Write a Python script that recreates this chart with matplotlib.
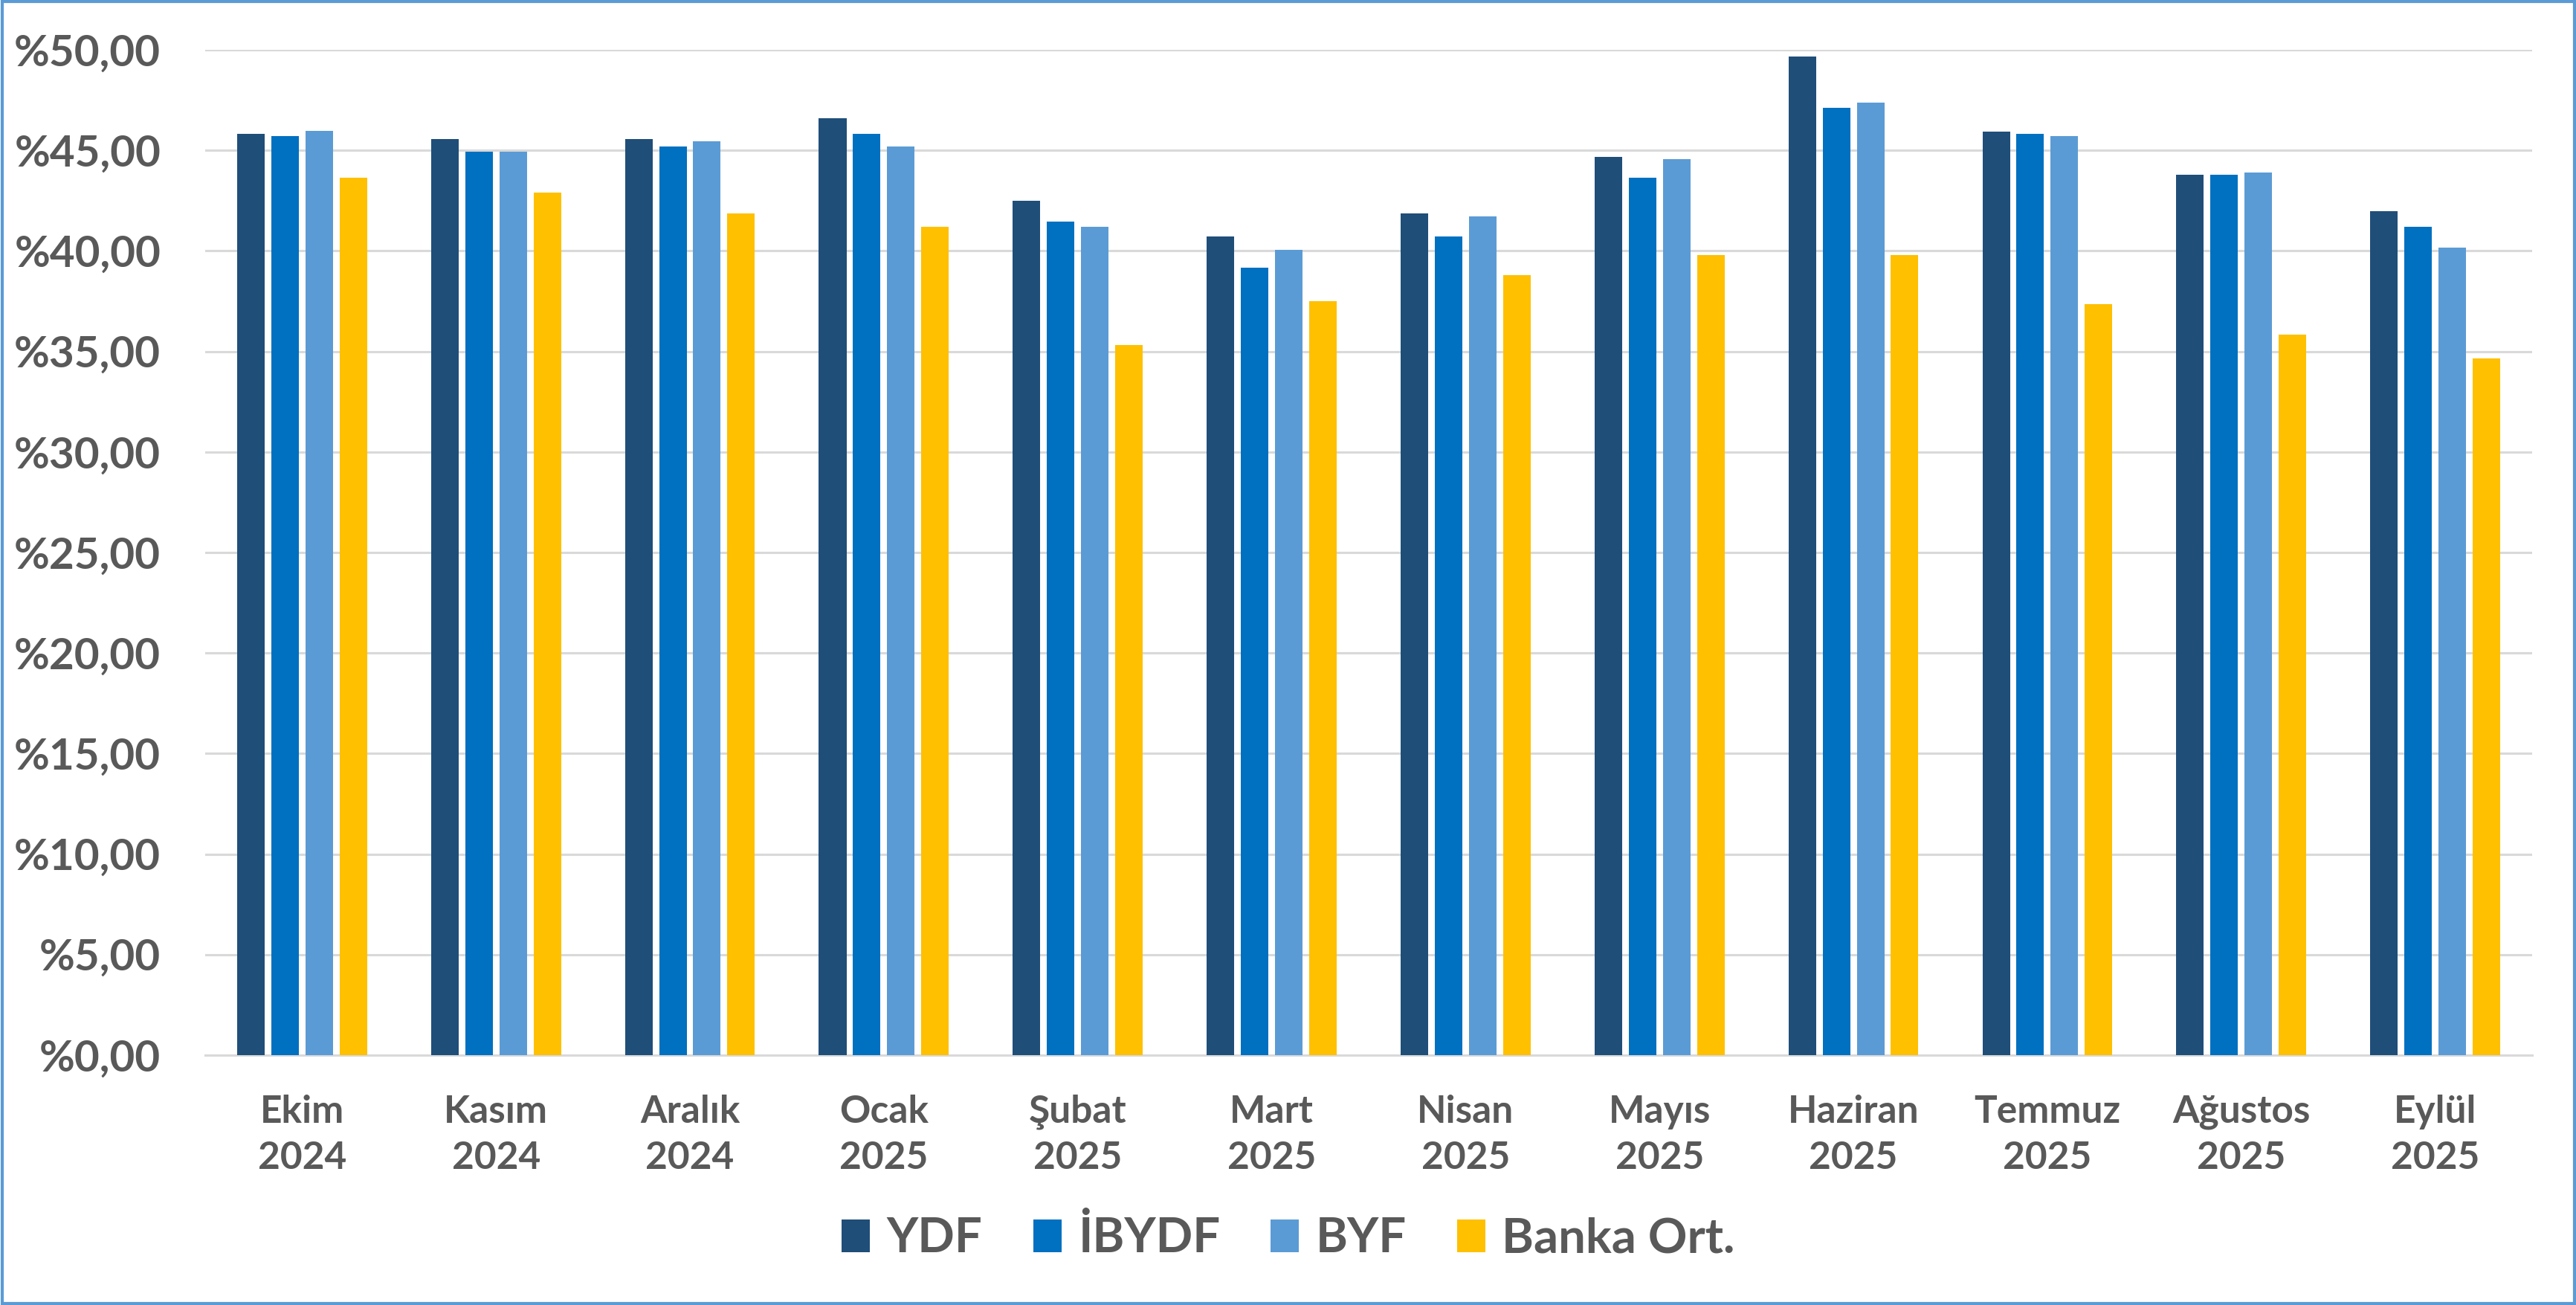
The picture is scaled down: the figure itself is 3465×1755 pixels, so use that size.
import matplotlib
matplotlib.use("Agg")
import matplotlib.pyplot as plt
import numpy as np
from matplotlib.patches import Rectangle

months = ["Ekim\n2024", "Kasım\n2024", "Aralık\n2024", "Ocak\n2025", "Şubat\n2025", "Mart\n2025",
          "Nisan\n2025", "Mayıs\n2025", "Haziran\n2025", "Temmuz\n2025", "Ağustos\n2025", "Eylül\n2025"]
ydf   = [45.83, 45.57, 45.57, 46.60, 42.49, 40.72, 41.86, 44.67, 49.68, 45.95, 43.79, 41.97]
ibydf = [45.71, 44.94, 45.19, 45.83, 41.47, 39.16, 40.72, 43.65, 47.11, 45.83, 43.79, 41.21]
byf   = [45.97, 44.94, 45.45, 45.19, 41.21, 40.05, 41.73, 44.55, 47.37, 45.71, 43.91, 40.18]
banka = [43.65, 42.90, 41.86, 41.21, 35.33, 37.50, 38.78, 39.80, 39.80, 37.36, 35.84, 34.66]
series_names = ["YDF", "İBYDF", "BYF", "Banka Ort."]
yticks = [0, 5, 10, 15, 20, 25, 30, 35, 40, 45, 50]

colors = ["#1F4E79", "#0070C0", "#5B9BD5", "#FFC000"]
txt = "#595959"
fam = ["Lato", "DejaVu Sans"]
plt.rcParams["font.family"] = fam
plt.rcParams["font.weight"] = "bold"

fig = plt.figure(figsize=(34.66, 17.55), dpi=100)
ax = fig.add_axes([0.0796, 0.1915, 0.9031, 0.7703])

x = np.arange(len(months))
w = 0.142
step = 0.176
data = [ydf, ibydf, byf, banka]
for i, (vals, name) in enumerate(zip(data, series_names)):
    ax.bar(x + (i - 1.5) * step, vals, width=w, color=colors[i], label=name, zorder=3)

ax.set_xlim(-0.5, len(months) - 0.5)
ax.set_ylim(0, 50)
ax.set_yticks(yticks)
ax.set_yticklabels([f"%{v:.2f}".replace(".", ",") for v in yticks], fontsize=42,
                   fontweight="bold", color=txt)
ax.set_xticks(x)
ax.set_xticklabels(months, fontsize=37, fontweight="bold", color=txt, linespacing=1.4)
ax.tick_params(axis="both", length=0)
ax.tick_params(axis="y", pad=43)
ax.tick_params(axis="x", pad=38)
ax.grid(axis="y", color="#D9D9D9", linewidth=2.2, zorder=0)
for s in ["top", "right", "left"]:
    ax.spines[s].set_visible(False)
ax.spines["bottom"].set_color("#D9D9D9")
ax.spines["bottom"].set_linewidth(2.2)
ax.spines["bottom"].set_zorder(2)

leg = fig.legend(loc="center", bbox_to_anchor=(0.5, 0.051), ncol=4, frameon=False,
                 prop={"family": fam, "weight": "bold", "size": 47},
                 handlelength=0.58, handleheight=0.66, handletextpad=0.34,
                 columnspacing=1.05, borderaxespad=0)
for t in leg.get_texts():
    t.set_color(txt)

fig.patches.append(Rectangle((0.0008, 0.0012), 0.9984, 0.9976, transform=fig.transFigure,
                             fill=False, edgecolor="#5B9BD5", linewidth=3))

fig.savefig("out.png", dpi=100, facecolor="white")
